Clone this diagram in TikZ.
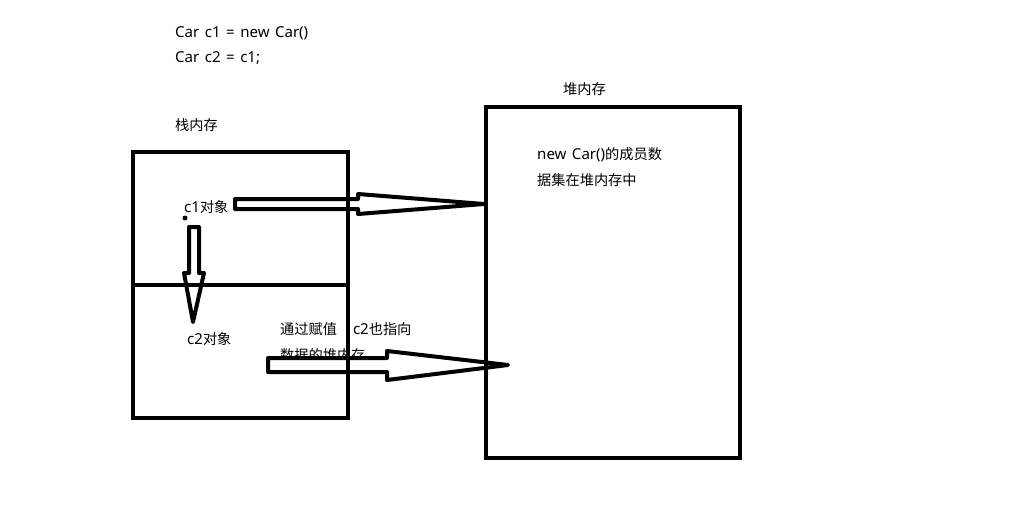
\documentclass[tikz,border=0pt]{standalone}
\usepackage{fontspec}
\setmainfont{Noto Sans CJK SC}
\newfontfamily\lat[Scale=1.06, WordSpace=1.4]{Noto Sans}
\begin{document}
\begin{tikzpicture}[x=1pt, y=-1pt]
\tikzstyle{every node}=[inner sep=0pt, anchor=base west, font=\fontsize{14.2}{17}\selectfont]
\tikzstyle{membox}=[line width=4pt, line join=miter]
\tikzstyle{ptr}=[line width=4pt, line join=round, fill=white]
\useasboundingbox (0,0) rectangle (1019,504);
% code
\node (code1) at (175,37) {\lat Car c1 = new Car()};
\node (code2) at (175,62) {\lat Car c2 = c1;};
% labels
\node (stack) at (175,130) {栈内存};
\node (heap)  at (563,94)  {堆内存};
\node (c1)    at (184,212) {{\lat c1}对象};
\node (c2)    at (187,344) {{\lat c2}对象};
\node (data1) at (537,159) {{\lat new Car()}的成员数};
\node (data2) at (537,185) {据集在堆内存中};
\node (note1) at (280,334) {通过赋值\hspace{16pt}{\lat c2}也指向};
\node (note2) at (280,360) {数据的堆内存};
\fill (185,218) circle (2.5);
% arrows
\draw[ptr] (235,199) -- (358,199) -- (358,194) -- (484,204)
	-- (358,214) -- (358,209) -- (235,209) -- cycle;
\draw[ptr] (268,358) -- (387,358) -- (387,351) -- (508,365)
	-- (387,380) -- (387,372) -- (268,372) -- cycle;
\draw[ptr] (189,227) -- (189,273) -- (184,273) -- (193,322)
	-- (204,273) -- (199,273) -- (199,227) -- cycle;
% memory boxes
\draw[membox] (133,152) rectangle (348,418);
\draw[membox] (133,285) -- (348,285);
\draw[membox] (486,107) rectangle (740,458);
\end{tikzpicture}
\end{document}
